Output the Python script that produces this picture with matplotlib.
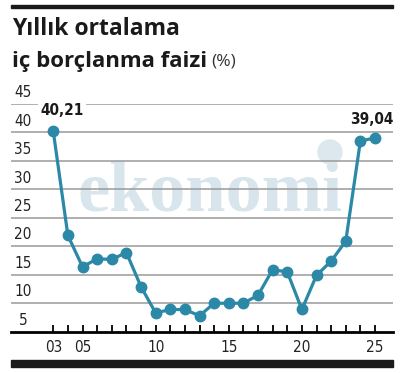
import matplotlib.pyplot as plt
from matplotlib.patches import Ellipse

years = list(range(2003, 2026))
rates = [40.21, 21.9, 16.4, 17.8, 17.7, 18.9, 12.9, 8.3, 8.9, 8.9, 7.8, 10.0,
         10.0, 10.0, 11.4, 15.9, 15.5, 8.9, 14.9, 17.4, 20.9, 38.5, 39.04]
yticks = [5, 10, 15, 20, 25, 30, 35, 40, 45]
xticks = [2003, 2005, 2010, 2015, 2020, 2025]
xlabels = ['03', '05', '10', '15', '20', '25']

num_font = dict(family='DejaVu Sans', fontstretch='condensed')
line_col = '#2b88a7'

fig = plt.figure(figsize=(4.17, 3.73), dpi=100)
ax = fig.add_axes([11/417, 1-331.7/373, 382/417, (331.7-104)/373])
ax.set_xlim(2000.11, 2026.23)
ax.set_ylim(5, 45)

# watermark
ax.text(2004.69, 26.3, 'ekonomi', fontsize=52, fontweight='bold',
        family='Liberation Serif', color='#d8e5ec', ha='left', va='baseline', zorder=0)
ax.add_patch(Ellipse((0.835, 0.789), 24/382, 24/227.7, transform=ax.transAxes,
                     color='#dde8ee', zorder=0, clip_on=False))

for v in yticks[1:]:
    ax.axhline(v, color='#9a9a9a', lw=1.1, zorder=1)
for v in yticks:
    ax.text(2000.93, v + 2.0, str(v), ha='center', va='center', fontsize=11,
            color='#222222', **num_font)

ax.plot(years, rates, color=line_col, lw=2.3, marker='o', ms=7.5, zorder=3,
        clip_on=False)

ax.text(2003.6, 43.8, '40,21', ha='center', va='center', fontsize=11, fontweight='bold',
        color='#1a1a1a', bbox=dict(facecolor='white', edgecolor='none', pad=1.5),
        zorder=4, **num_font)
ax.text(2026.23, 42.35, '39,04', ha='right', va='center', fontsize=11, fontweight='bold',
        color='#1a1a1a', zorder=4, **num_font)

for s in ['top', 'right', 'left']:
    ax.spines[s].set_visible(False)
ax.spines['bottom'].set_linewidth(2)
ax.set_yticks([])
ax.set_xticks(years)
ax.set_xticklabels([])
ax.tick_params(axis='x', direction='in', length=5, width=1.3, color='black')
for x, lab in zip(xticks, xlabels):
    ax.text(x, 3.5, lab, ha='center', va='top', fontsize=11, color='#222222', **num_font)

# header and footer bars
fig.patches.append(plt.Rectangle((11/417, 1-8.3/373), 382/417, 3.3/373,
                                 transform=fig.transFigure, color='#1a1a1a'))
fig.patches.append(plt.Rectangle((11/417, 1-366.7/373), 382/417, 6.7/373,
                                 transform=fig.transFigure, color='#1a1a1a'))

fig.text(12/417, 1-29/373, 'Yıllık ortalama', fontsize=16.5, fontweight='bold',
         family='Open Sans', va='center', color='#1a1a1a')
fig.text(12/417, 1-62/373, 'iç borçlanma faizi', fontsize=16, fontweight='bold',
         family='Open Sans', va='center', color='#1a1a1a')
r = fig.canvas.get_renderer()
end = fig.texts[-1].get_window_extent(r).x1
fig.text((end + 4)/417, 1-62/373, '(%)', fontsize=12.5, family='Open Sans',
         va='center', color='#333333')

fig.savefig('out.png', dpi=100)
